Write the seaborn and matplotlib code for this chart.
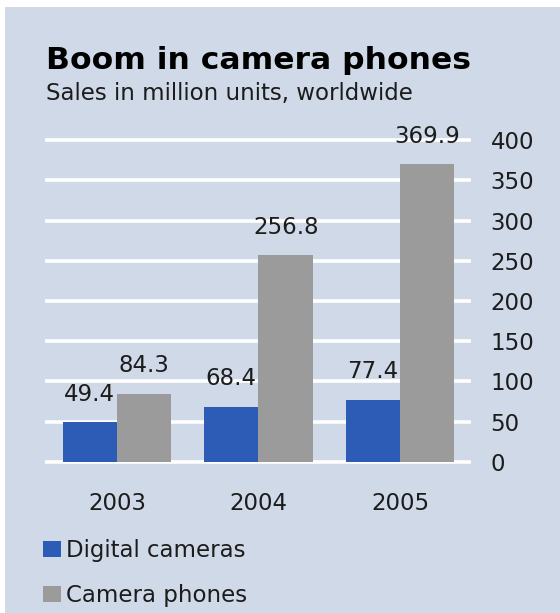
import matplotlib
matplotlib.use("Agg")
import matplotlib.pyplot as plt
from matplotlib.patches import Rectangle, Patch
import seaborn as sns
import pandas as pd

years = ["2003", "2004", "2005"]
series_names = ["Digital cameras", "Camera phones"]
digital_cameras = [49.4, 68.4, 77.4]
camera_phones = [84.3, 256.8, 369.9]
y_ticks = [0, 50, 100, 150, 200, 250, 300, 350, 400]

BG = "#cfd9e8"
BLUE = "#2d5cb6"
GREY = "#9b9b9b"
TXT = "#1c1c1c"

df = pd.DataFrame({
    "year": years * 2,
    "series": [series_names[0]] * 3 + [series_names[1]] * 3,
    "value": digital_cameras + camera_phones,
})

sns.set_theme(style="white")
plt.rcParams["font.family"] = ["DejaVu Sans"]

W, H = 560, 613
fig = plt.figure(figsize=(W / 100, H / 100), dpi=100, facecolor="white")
fig.patches.append(Rectangle((5 / W, 0), 1 - 5 / W, 1 - 7 / H, transform=fig.transFigure,
                             facecolor=BG, edgecolor="none", zorder=-10))

def px(x0, y0, x1, y1):
    return [x0 / W, 1 - y1 / H, (x1 - x0) / W, (y1 - y0) / H]

ax = fig.add_axes(px(45, 132, 471, 466))
ax.patch.set_alpha(0)

sns.barplot(data=df, x="year", y="value", hue="series", order=years, hue_order=series_names,
            palette=[BLUE, GREY], width=0.77, saturation=1, ax=ax, legend=False, zorder=3,
            linewidth=0, edgecolor="none")

for c in ax.containers:
    ax.bar_label(c, fmt="%.1f", padding=12, fontsize=16.5, color=TXT)

ax.set_ylim(-5, 410)
ax.set_xlim(-0.509, 2.502)
ax.set_yticks(y_ticks)
ax.yaxis.tick_right()
ax.yaxis.grid(True, color="white", linewidth=2.6)
ax.set_axisbelow(True)
ax.tick_params(axis="y", length=0, pad=14, labelsize=16.5, labelcolor=TXT)
ax.tick_params(axis="x", length=0, pad=18.5, labelsize=16.5, labelcolor=TXT)
ax.set_xlabel("")
ax.set_ylabel("")
for s in ax.spines.values():
    s.set_visible(False)

fig.text(46 / W, 1 - 69 / H, "Boom in camera phones", fontsize=22.6, fontweight="bold",
         color="black", va="baseline", ha="left")
fig.text(46 / W, 1 - 100 / H, "Sales in million units, worldwide", fontsize=16.5,
         color=TXT, va="baseline", ha="left")

handles = [Patch(facecolor=BLUE, edgecolor="none"), Patch(facecolor=GREY, edgecolor="none")]
fig.legend(handles, series_names, loc="upper left", bbox_to_anchor=(43 / W, 1 - 539 / H),
           frameon=False, fontsize=16.5, labelcolor=TXT, handlelength=0.79, handleheight=0.7,
           handletextpad=0.2, labelspacing=0.98, borderpad=0, borderaxespad=0)

fig.savefig("out.png", dpi=100, facecolor="white")
